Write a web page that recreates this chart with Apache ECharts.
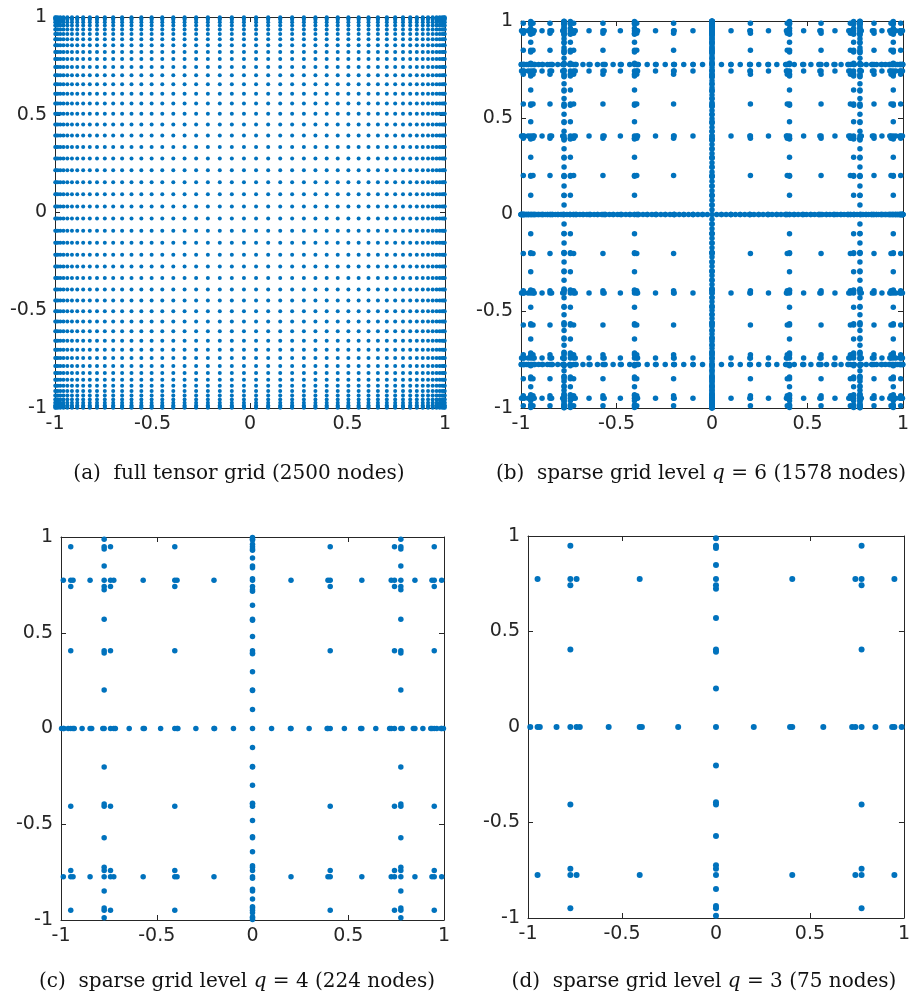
<!DOCTYPE html>
<html><head><meta charset="utf-8">
<script src="https://cdn.jsdelivr.net/npm/echarts@6/dist/echarts.min.js"></script>
<style>html,body{margin:0;padding:0;background:#fff}#c{width:913px;height:1003px}</style>
</head><body><div id="c"></div><script>
// ---------- data ----------
const tickValues = [-1, -0.5, 0, 0.5, 1];
// positive half of the 50-node 1D rule used for the full tensor grid (a)
const nodes50Pos = [0.0311,0.0932,0.1549,0.2160,0.2763,0.3355,0.3934,0.4499,0.5045,0.5572,
  0.6077,0.6559,0.7016,0.7445,0.7846,0.8216,0.8555,0.8860,0.9131,0.9367,0.9567,0.9729,0.9854,0.9941,0.9989];
// positive halves of the odd 1D rules (0 is also a node of each)
const rule1Pos = [];
const rule3Pos = [0.7746];
const rule7Pos = [0.4058,0.7415,0.9491];
const rule15Pos = [0.2011,0.3941,0.5709,0.7244,0.8482,0.9372,0.9879];
const rule31Pos = [0.0996,0.1982,0.2957,0.3898,0.4798,0.5647,0.6438,0.7161,0.7817,0.8398,0.8898,0.9309,0.9626,0.9847,0.9971];
const rule63Pos = [0.0495,0.0988,0.1479,0.1966,0.2449,0.2925,0.3394,0.3855,0.4307,0.4749,0.5177,0.5594,0.5997,0.6385,0.6757,
  0.7115,0.7454,0.7774,0.8076,0.8357,0.8618,0.8859,0.9078,0.9274,0.9448,0.9598,0.9725,0.9828,0.9908,0.9963,0.9993];
const rule127Pos = [0.0246,0.0493,0.0739,0.0984,0.1229,0.1473,0.1716,0.1959,0.2199,0.2439,0.2677,0.2914,0.3149,0.3382,0.3612,
  0.3841,0.4067,0.4291,0.4513,0.4731,0.4947,0.5159,0.5369,0.5575,0.5777,0.5977,0.6172,0.6364,0.6552,0.6737,0.6917,0.7093,
  0.7264,0.7431,0.7595,0.7752,0.7906,0.8054,0.8197,0.8336,0.8470,0.8597,0.8722,0.8840,0.8952,0.9060,0.9160,0.9257,0.9347,
  0.9431,0.9511,0.9584,0.9651,0.9713,0.9768,0.9818,0.9862,0.9900,0.9932,0.9957,0.9977,0.9991,0.9998];
const sparseLevelB = 6, sparseLevelC = 4, sparseLevelD = 3;
const captionA = '(a)  full tensor grid (2500 nodes)';
const captionB = ['(b)  sparse grid level ', 'q', ' = 6 (1578 nodes)'];
const captionC = ['(c)  sparse grid level ', 'q', ' = 4 (224 nodes)'];
const captionD = ['(d)  sparse grid level ', 'q', ' = 3 (75 nodes)'];

// ---------- build point sets ----------
function sym(pos, withZero) {
  const neg = pos.slice().reverse().map(v => -v);
  return withZero ? neg.concat([0], pos) : neg.concat(pos);
}
const nodes50 = sym(nodes50Pos, false);
const rules = [rule1Pos, rule3Pos, rule7Pos, rule15Pos, rule31Pos, rule63Pos, rule127Pos].map(p => sym(p, true));
function tensor(xs, ys) { const out = []; xs.forEach(x => ys.forEach(y => out.push([x, y]))); return out; }
function sparse(q) {
  const seen = new Map();
  for (let a = 0; a <= q; a++) for (let b = 0; a + b <= q; b++)
    rules[a].forEach(x => rules[b].forEach(y => { const k = x + ',' + y; if (!seen.has(k)) seen.set(k, [x, y]); }));
  return Array.from(seen.values());
}
const ptsA = tensor(nodes50, nodes50);
const ptsB = sparse(sparseLevelB), ptsC = sparse(sparseLevelC), ptsD = sparse(sparseLevelD);

// ---------- layout / style ----------
const grids = [
  {left: 55, top: 17, width: 390, height: 391},
  {left: 521, top: 21, width: 382, height: 387},
  {left: 61, top: 537, width: 383, height: 383},
  {left: 528, top: 536, width: 384, height: 382}
];
const axisColor = '#262626';
const labelFont = {fontFamily: 'DejaVu Sans', fontSize: 19, color: axisColor};
const xAxes = [], yAxes = [];
grids.forEach((g, i) => {
  ['bottom', 'top'].forEach(pos => xAxes.push({
    type: 'value', gridIndex: i, position: pos, min: -1, max: 1, interval: 0.5,
    axisLine: {show: true, onZero: false, lineStyle: {color: axisColor, width: 1}},
    axisTick: {show: true, inside: true, length: 5, lineStyle: {color: axisColor}},
    axisLabel: Object.assign({show: pos === 'bottom', margin: 7, showMinLabel: true, showMaxLabel: true,
      customValues: tickValues}, labelFont),
    splitLine: {show: false}
  }));
  ['left', 'right'].forEach(pos => yAxes.push({
    type: 'value', gridIndex: i, position: pos, min: -1, max: 1, interval: 0.5,
    axisLine: {show: true, onZero: false, lineStyle: {color: axisColor, width: 1}},
    axisTick: {show: true, inside: true, length: 5, lineStyle: {color: axisColor}},
    axisLabel: Object.assign({show: pos === 'left', margin: 8, showMinLabel: true, showMaxLabel: true}, labelFont),
    splitLine: {show: false}
  }));
});
const dotColor = '#0072BD';
const sets = [ptsA, ptsB, ptsC, ptsD];
const sizes = [4, 5.5, 5.5, 6];
const series = sets.map((d, i) => ({
  type: 'scatter', xAxisIndex: 2 * i, yAxisIndex: 2 * i, data: d, symbol: 'circle',
  symbolSize: sizes[i], itemStyle: {color: dotColor, opacity: 1}, silent: true, clip: false, z: 3
}));
const capBase = {fontFamily: 'DejaVu Serif', fontSize: 20, fontWeight: 'normal', color: '#111'};
const capStyle = {n: Object.assign({}, capBase), i: Object.assign({fontStyle: 'italic'}, capBase)};
function rich(parts) { return '{n|' + parts[0] + '}{i|' + parts[1] + '}{n|' + parts[2] + '}'; }
const titles = [
  {text: '{n|' + captionA + '}', left: 234, top: 459},
  {text: rich(captionB), left: 696, top: 459},
  {text: rich(captionC), left: 232, top: 967},
  {text: rich(captionD), left: 699, top: 967}
].map(t => ({text: t.text, left: t.left, top: t.top, textAlign: 'center',
  textStyle: {fontWeight: 'normal', rich: capStyle}}));

const chart = echarts.init(document.getElementById('c'), null, {renderer: 'canvas'});
chart.setOption({
  animation: false, backgroundColor: '#fff',
  title: titles, grid: grids, xAxis: xAxes, yAxis: yAxes, series: series
});
</script></body></html>
